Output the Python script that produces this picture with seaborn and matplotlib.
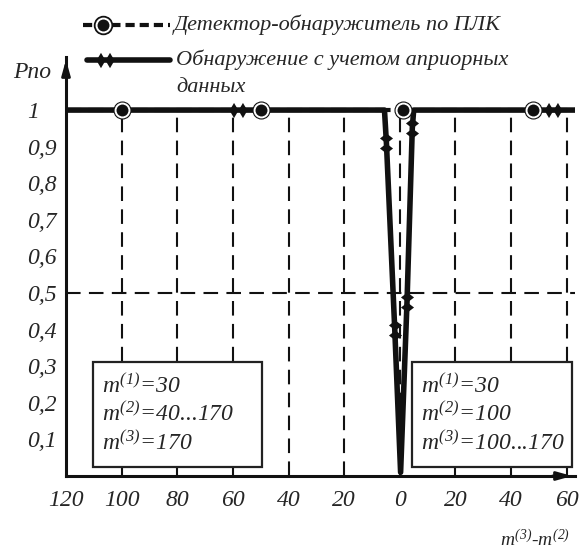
# Вероятность правильного обнаружения: ПЛК vs учет априорных данных
import seaborn as sns
import matplotlib.pyplot as plt
from matplotlib.path import Path
from matplotlib.lines import Line2D
from matplotlib.patches import Rectangle

# ------------------------------------------------------------
# ДАННЫЕ
# ------------------------------------------------------------
det_x = [-120, -100, -50, 1, 48, 63]
det_y = [1, 1, 1, 1, 1, 1]
det_mark_x = [-100, -50, 1, 48]
det_mark_y = [1, 1, 1, 1]

apr_x = [-120, -58, -5.5, -4.8, -1.8, 0.3, 2.6, 4.5, 5.0, 55, 63]
apr_y = [1, 1, 1, 0.91, 0.40, 0.01, 0.475, 0.95, 1, 1, 1]
apr_mark_h_x = [-58, 55]
apr_mark_h_y = [1, 1]
apr_mark_v_x = [-4.8, -1.8, 2.6, 4.5]
apr_mark_v_y = [0.91, 0.40, 0.475, 0.95]

x_ticks = [-120, -100, -80, -60, -40, -20, 0, 20, 40, 60]
x_labels = ["120", "100", "80", "60", "40", "20", "0", "20", "40", "60"]
y_ticks = [0.1, 0.2, 0.3, 0.4, 0.5, 0.6, 0.7, 0.8, 0.9, 1.0]
y_labels = ["0,1", "0,2", "0,3", "0,4", "0,5", "0,6", "0,7", "0,8", "0,9", "1"]
x_grid = [-100, -80, -60, -40, -20, 0, 20, 40, 60]

legend_labels = ["Детектор-обнаружитель по ПЛК",
                 "Обнаружение с учетом априорных",
                 "данных"]
box_left = [r"$m^{(1)}$=30", r"$m^{(2)}$=40...170", r"$m^{(3)}$=170"]
box_right = [r"$m^{(1)}$=30", r"$m^{(2)}$=100", r"$m^{(3)}$=100...170"]

# ------------------------------------------------------------
# СТИЛЬ
# ------------------------------------------------------------
sns.set_style("white")
plt.rcParams["font.family"] = ["Liberation Serif", "DejaVu Serif"]
plt.rcParams["font.style"] = "italic"
plt.rcParams["mathtext.fontset"] = "custom"
plt.rcParams["mathtext.rm"] = "Liberation Serif:italic"
plt.rcParams["mathtext.it"] = "Liberation Serif:italic"

K = "#111111"
FS = 17
DASH = (0, (7, 4))

# маркер "двойной ромб"
def double_diamond(vertical=False, h=0.8):
    pts = [(-1, 0), (-0.5, h), (0, 0), (-0.5, -h), (-1, 0),
           (0, 0), (0.5, h), (1, 0), (0.5, -h), (0, 0)]
    if vertical:
        pts = [(y, x) for x, y in pts]
    codes = [Path.MOVETO, Path.LINETO, Path.LINETO, Path.LINETO, Path.CLOSEPOLY] * 2
    return Path(pts, codes)

DD_H = double_diamond(False, 0.85)
DD_V = double_diamond(True, 0.65)

W, H = 579, 551
fig = plt.figure(figsize=(W / 100, H / 100), dpi=100)
ax = fig.add_axes([66 / W, (H - 476) / H, (575 - 66) / W, (476 - 57) / H])

# сетка
ax.vlines(x_grid, 0, 1, colors=K, linestyles=DASH, lw=1.5, zorder=1)
ax.hlines(0.5, -120, 63, colors=K, linestyles=DASH, lw=1.5, zorder=1)

# линия ПЛК (пунктир, под сплошной)
sns.lineplot(x=det_x, y=det_y, ax=ax, color=K, lw=3, linestyle="--",
             estimator=None, sort=False, zorder=2)
# линия с априорными данными
sns.lineplot(x=apr_x, y=apr_y, ax=ax, color=K, lw=4, estimator=None,
             sort=False, zorder=3)

# маркеры
sns.scatterplot(x=det_mark_x, y=det_mark_y, ax=ax, color=K, s=170,
                marker="o", linewidth=0, zorder=4)
sns.scatterplot(x=det_mark_x, y=det_mark_y, ax=ax, color=K, s=100,
                marker="o", edgecolor="white", linewidth=1.4, zorder=5)
sns.scatterplot(x=apr_mark_h_x, y=apr_mark_h_y, ax=ax, color=K, s=165,
                marker=DD_H, linewidth=0, zorder=6)
sns.scatterplot(x=apr_mark_v_x, y=apr_mark_v_y, ax=ax, color=K, s=210,
                marker=DD_V, linewidth=0, zorder=6)

# оси
ax.set_xlim(-120, 63)
ax.set_ylim(0, 1.145)
sns.despine(ax=ax)
for s in ["left", "bottom"]:
    ax.spines[s].set_linewidth(2.2)
    ax.spines[s].set_color(K)
arrow = dict(arrowstyle="-|>,head_length=0.9,head_width=0.25", lw=2, color=K)
ax.annotate("", xy=(0, 1.0), xytext=(0, 0.95), xycoords="axes fraction",
            arrowprops=arrow)
ax.annotate("", xy=(1.0, 0), xytext=(0.95, 0), xycoords="axes fraction",
            arrowprops=arrow)

ax.set_xticks(x_ticks, x_labels, fontsize=FS)
ax.set_yticks(y_ticks, y_labels, fontsize=FS)
ax.tick_params(axis="x", length=0, pad=10)
ax.tick_params(axis="y", length=0, pad=28)
for lab in ax.get_yticklabels():
    lab.set_ha("left")
ax.set_xlabel("")
ax.set_ylabel("")

ax.text(-0.104, 0.963, "Рпо", transform=ax.transAxes, fontsize=FS,
        ha="left", va="center")
ax.text(0.99, -0.152, r"$m^{(3)}$-$m^{(2)}$", transform=ax.transAxes,
        fontsize=14, ha="right", va="center")

# рамки с параметрами
for x0, w, lines in [(0.053, 0.333, box_left), (0.68, 0.315, box_right)]:
    ax.add_patch(Rectangle((x0, 0.022), w, 0.251, transform=ax.transAxes,
                           facecolor="white", edgecolor="#222222", lw=1.6,
                           zorder=7))
    for i, t in enumerate(lines):
        ax.text(x0 + 0.017, 0.215 - i * 0.068, t, transform=ax.transAxes,
                fontsize=FS, va="center", ha="left", zorder=8)

# легенда (вручную)
def fx(px):
    return px / W

def fy(py):
    return (H - py) / H

fig.add_artist(Line2D([fx(83), fx(170)], [fy(25), fy(25)], color=K, lw=3,
                      linestyle=(0, (2.2, 1.2)), transform=fig.transFigure))
fig.add_artist(Line2D([fx(103)], [fy(25)], color=K, marker="o", ms=13,
                      mec=K, transform=fig.transFigure))
fig.add_artist(Line2D([fx(103)], [fy(25)], color=K, marker="o", ms=10,
                      mec="white", mew=1.4, transform=fig.transFigure))
fig.add_artist(Line2D([fx(87), fx(170)], [fy(60), fy(60)], color=K, lw=4,
                      transform=fig.transFigure))
fig.add_artist(Line2D([fx(105)], [fy(60)], color=K, marker=DD_H, ms=13,
                      mew=0, transform=fig.transFigure))
fig.text(fx(174), fy(25), legend_labels[0], fontsize=16, va="center")
fig.text(fx(176), fy(60), legend_labels[1], fontsize=16, va="center")
fig.text(fx(176), fy(88), legend_labels[2], fontsize=16, va="center")

fig.savefig("out.png", dpi=100)
